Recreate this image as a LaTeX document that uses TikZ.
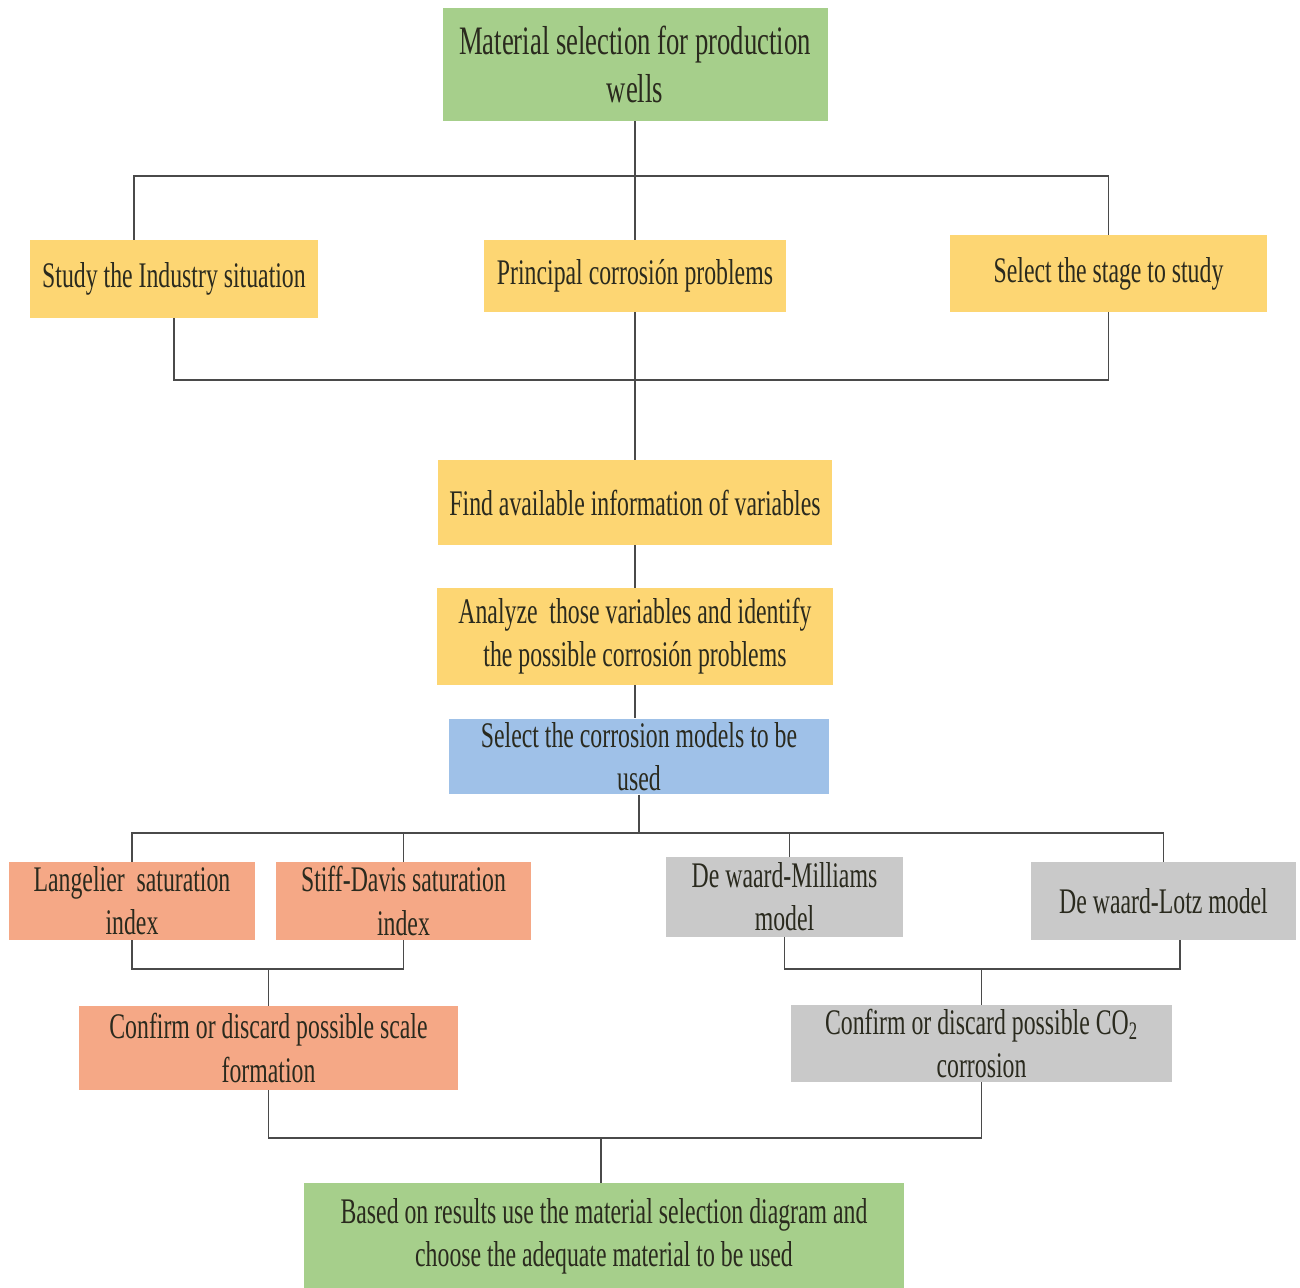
\documentclass[tikz,border=0pt]{standalone}
\usepackage{fontspec}
\setmainfont[FakeStretch=0.66]{Liberation Serif}
\definecolor{leaf}{HTML}{A6CF8B}
\definecolor{gold}{HTML}{FDD673}
\definecolor{sky}{HTML}{9FC1E8}
\definecolor{salmon}{HTML}{F5A886}
\definecolor{stone}{HTML}{C9C9C9}
\definecolor{wire}{HTML}{4A4A4A}
\definecolor{ink}{HTML}{2A2A1E}

\begin{document}
\begin{tikzpicture}[
  box/.style={rectangle, inner sep=2pt, align=center, text=ink,
    font=\fontsize{20.5}{24.5}\selectfont},
  greenbox/.style={box, fill=leaf},
  goldbox/.style={box, fill=gold},
  bluebox/.style={box, fill=sky},
  salmonbox/.style={box, fill=salmon},
  greybox/.style={box, fill=stone},
  link/.style={draw=wire, line width=1.1pt}
]
\useasboundingbox (0,0) rectangle (26,-25.74);

% first level
\node[greenbox, minimum width=7.7cm, minimum height=2.26cm,
  font=\fontsize{23}{27.5}\selectfont] (top) at (12.7,-1.29)
  {Material selection for production\\wells};
\node[goldbox, minimum width=5.76cm, minimum height=1.56cm] (ind) at (3.48,-5.58)
  {Study the Industry situation};
\node[goldbox, minimum width=6.04cm, minimum height=1.44cm] (prob) at (12.7,-5.52)
  {Principal corrosión problems};
\node[goldbox, minimum width=6.34cm, minimum height=1.54cm] (stage) at (22.17,-5.47)
  {Select the stage to study};

% middle column
\node[goldbox, minimum width=7.88cm, minimum height=1.7cm] (find) at (12.7,-10.05)
  {Find available information of variables};
\node[goldbox, minimum width=7.92cm, minimum height=1.94cm] (anal) at (12.7,-12.73)
  {Analyze~ those variables and identify\\the possible corrosión problems};
\node[bluebox, minimum width=7.6cm, minimum height=1.46cm] (sel) at (12.78,-15.13)
  {Select the corrosion models to be\\used};

% models
\node[salmonbox, minimum width=4.92cm, minimum height=1.56cm] (lang) at (2.64,-18.02)
  {Langelier~ saturation\\index};
\node[salmonbox, minimum width=5.1cm, minimum height=1.56cm] (stiff) at (8.07,-18.02)
  {Stiff-Davis saturation\\index};
\node[greybox, minimum width=4.74cm, minimum height=1.6cm] (mill) at (15.69,-17.94)
  {De waard-Milliams\\model};
\node[greybox, minimum width=5.3cm, minimum height=1.56cm] (lotz) at (23.27,-18.02)
  {De waard-Lotz model};

% results
\node[salmonbox, minimum width=7.58cm, minimum height=1.68cm] (scale) at (5.37,-20.96)
  {Confirm or discard possible scale\\formation};
\node[greybox, minimum width=7.62cm, minimum height=1.54cm] (co2) at (19.63,-20.87)
  {Confirm or discard possible CO\textsubscript{2}\\corrosion};
\node[greenbox, minimum width=12cm, minimum height=2.14cm] (base) at (12.08,-24.73)
  {Based on results use the material selection diagram and\\choose the adequate material to be used};

% junctions
\coordinate (j1) at (12.7,-3.52);
\coordinate (j2) at (12.7,-7.6);
\coordinate (j3) at (12.78,-16.66);
\coordinate (j4) at (5.37,-19.38);
\coordinate (j5) at (19.63,-19.38);
\coordinate (j6) at (12.02,-22.76);

\draw[link] (top) -- (prob);
\draw[link] ([xshift=-8mm]ind.north) |- (j1) -| (stage.north);
\draw[link] (ind.south) |- (j2) -| (stage.south);
\draw[link] (prob) -- (find);
\draw[link] (find) -- (anal);
\draw[link] (anal.south) -- (anal.south |- sel.north);
\draw[link] (sel.south) -- (j3);
\draw[link] (lang.north) |- (j3) -| (lotz.north);
\draw[link] (stiff.north) -- (stiff.north |- j3);
\draw[link] ([xshift=1mm]mill.north) -- ([xshift=1mm]mill.north |- j3);
\draw[link] (lang.south) |- (j4) -| (stiff.south);
\draw[link] (j4) -- (scale);
\draw[link] (mill.south) |- (j5) -| ([xshift=3.3mm]lotz.south);
\draw[link] (j5) -- (co2);
\draw[link] (scale.south) |- (j6) -| (co2.south);
\draw[link] (j6) -- (j6 |- base.north);
\end{tikzpicture}
\end{document}
